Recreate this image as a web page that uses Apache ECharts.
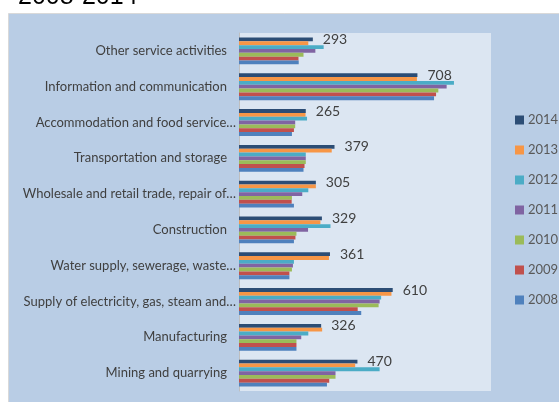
<!DOCTYPE html>
<html>
<head>
<meta charset="utf-8">
<script src="https://cdn.jsdelivr.net/npm/echarts@6/dist/echarts.min.js"></script>
<style>
  html, body { margin: 0; padding: 0; background: #ffffff; }
  #chart { width: 559px; height: 402px; }
</style>
</head>
<body>
<div id="chart"></div>
<script>
// Industries, listed top to bottom as shown
const categories = [
  'Other service activities',
  'Information and communication',
  'Accommodation and food service\u2026',
  'Transportation and storage',
  'Wholesale and retail trade, repair of\u2026',
  'Construction',
  'Water supply, sewerage, waste\u2026',
  'Supply of electricity, gas, steam and\u2026',
  'Manufacturing',
  'Mining and quarrying'
];

const years = ['2014', '2013', '2012', '2011', '2010', '2009', '2008'];

const values2014 = [293, 708, 265, 379, 305, 329, 361, 610, 326, 470];
const values2013 = [275, 706, 264, 368, 305, 323, 357, 605, 330, 461];
const values2012 = [336, 853, 270, 265, 275, 363, 218, 564, 275, 558];
const values2011 = [303, 824, 223, 265, 251, 274, 214, 558, 247, 383];
const values2010 = [256, 791, 223, 265, 210, 228, 210, 554, 228, 383];
const values2009 = [236, 782, 218, 260, 209, 224, 200, 471, 228, 358];
const values2008 = [237, 774, 210, 256, 218, 218, 200, 485, 228, 349];

const seriesValues = [values2014, values2013, values2012, values2011, values2010, values2009, values2008];
const colors = ['#2c4d75', '#f79646', '#4bacc6', '#8064a2', '#9bbb59', '#c0504d', '#4f81bd'];

const FONT = 'Lato, "Noto Sans", sans-serif';

const chart = echarts.init(document.getElementById('chart'), null, { renderer: 'canvas' });

const series = years.map((y, i) => ({
  name: y,
  type: 'bar',
  data: seriesValues[i],
  barGap: '0%',
  barCategoryGap: '25%',
  itemStyle: { color: colors[i] },
  label: i === 0 ? {
    show: true,
    position: 'right',
    distance: 10,
    fontSize: 14,
    fontFamily: FONT,
    color: '#404040'
  } : { show: false }
}));

chart.setOption({
  backgroundColor: '#ffffff',
  animation: false,
  color: colors,
  graphic: [
    {
      type: 'rect',
      z: -1,
      shape: { x: 8.5, y: 13.5, width: 560, height: 400 },
      style: { fill: '#b9cde5', stroke: '#d9d9d9', lineWidth: 1 }
    },
    {
      type: 'text',
      left: 18,
      top: -15,
      style: {
        text: '2008-2014',
        fontSize: 25,
        fontFamily: 'Liberation Sans, Arial, sans-serif',
        fill: '#000000'
      }
    }
  ],
  legend: {
    orient: 'vertical',
    left: 515,
    top: 113,
    padding: 0,
    data: years,
    icon: 'rect',
    itemWidth: 9,
    itemHeight: 9,
    itemGap: 16,
    textStyle: { fontSize: 13, fontFamily: FONT, color: '#595959', lineHeight: 14, padding: [0, 0, 0, -1] }
  },
  grid: {
    left: 239,
    top: 33,
    width: 252,
    height: 358,
    show: true,
    backgroundColor: '#dce6f2',
    borderWidth: 0,
    containLabel: false
  },
  xAxis: {
    type: 'value',
    min: 0,
    max: 1000,
    show: false,
    splitLine: { show: false }
  },
  yAxis: {
    type: 'category',
    inverse: true,
    data: categories,
    axisLine: { show: true, lineStyle: { color: '#bfbfbf', width: 1 } },
    axisTick: { show: false },
    axisLabel: {
      margin: 3,
      fontSize: 13,
      fontFamily: FONT,
      color: '#404040',
      formatter: (v) => v.endsWith('\u2026') ? '{e|' + v + '}' : '{n|' + v + '}',
      rich: {
        n: { fontSize: 13, fontFamily: FONT, color: '#404040', padding: [0, 9, 0, 0] },
        e: { fontSize: 13, fontFamily: FONT, color: '#404040' }
      }
    }
  },
  series: series
});
</script>
</body>
</html>
